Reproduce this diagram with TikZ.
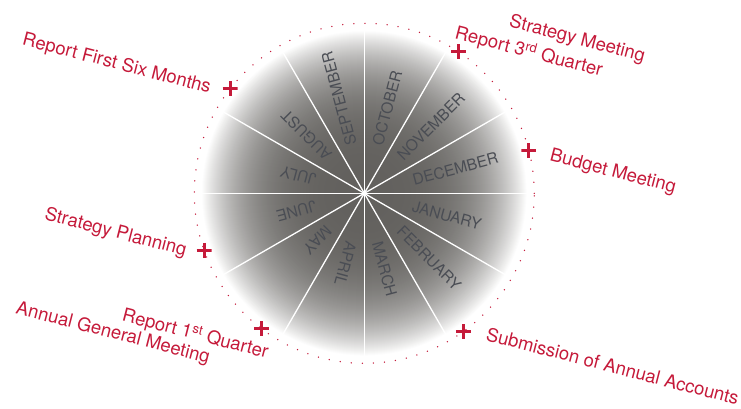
\documentclass[tikz,border=0pt]{standalone}
\usepackage{fontspec}
\setmainfont{TeX Gyre Heros}

\definecolor{evred}{RGB}{197,26,58}
\definecolor{monthgray}{RGB}{74,77,84}
\definecolor{diskdark}{RGB}{99,97,94}

\tikzset{
  spoke/.style={white, line width=1.3pt},
  month/.style={monthgray, font=\fontsize{15.5}{16}\selectfont, inner sep=0pt, anchor=west},
  event/.style={evred, font=\fontsize{18.5}{20}\selectfont, inner sep=0pt, rotate=-14.5},
  evmark/.style={minimum size=15pt, inner sep=0pt,
    path picture={\draw[evred, line width=2.8pt]
      (path picture bounding box.north) -- (path picture bounding box.south)
      (path picture bounding box.west) -- (path picture bounding box.east);}},
  dotring/.style={evred, line width=1.5pt, line cap=round, dash pattern=on 0pt off 11.1pt}
}

\begin{document}
\begin{tikzpicture}[x=1pt, y=1pt]
\useasboundingbox (-364.3,-214.7) rectangle (376.7,193.3);
\coordinate (c) at (0,0);

% year wheel: dark in the middle, fading to white at the rim
\foreach \r in {163,162,...,1} {
  \pgfmathsetmacro\w{100*(\r/163)^3.3}
  \fill[white!\w!diskdark] (c) circle (\r);
}
\foreach \a in {0,30,...,330}
  \draw[spoke] (c) -- (\a:163);
\foreach \m [count=\i] in {JANUARY,FEBRUARY,MARCH,APRIL,MAY,JUNE,JULY,AUGUST,SEPTEMBER,OCTOBER,NOVEMBER,DECEMBER}
  \node[month, rotate={15-30*\i}] (m\i) at ({15-30*\i}:50) {\m};
\draw[dotring] (c) circle (170);

% events round the year
\node[evmark] (mk1) at (142.1:170) {};
\node[evmark] (mk2) at (56.3:170) {};
\node[evmark] (mk3) at (14.5:170) {};
\node[evmark] (mk4) at (199.6:170) {};
\node[evmark] (mk5) at (232.8:170) {};
\node[evmark] (mk6) at (-54.4:170) {};

\node[event, anchor=base east] (ev1) at (-155,100) {Report First Six Months};
\node[event, anchor=base west] (ev2) at (144,166.6) {Strategy Meeting};
\node[event, anchor=base west] (ev3) at (89.7,155) {Report 3\textsuperscript{rd} Quarter};
\node[event, anchor=base west] (ev4) at (184.7,32.6) {Budget Meeting};
\node[event, anchor=base east] (ev5) at (-179.3,-62.7) {Strategy Planning};
\node[event, anchor=base east] (ev6) at (-97.6,-165) {Report 1\textsuperscript{st} Quarter};
\node[event, anchor=base east] (ev7) at (-156,-170) {Annual General Meeting};
\node[event, anchor=base west] (ev8) at (120.7,-146.7) {Submission of Annual Accounts};
\end{tikzpicture}
\end{document}
